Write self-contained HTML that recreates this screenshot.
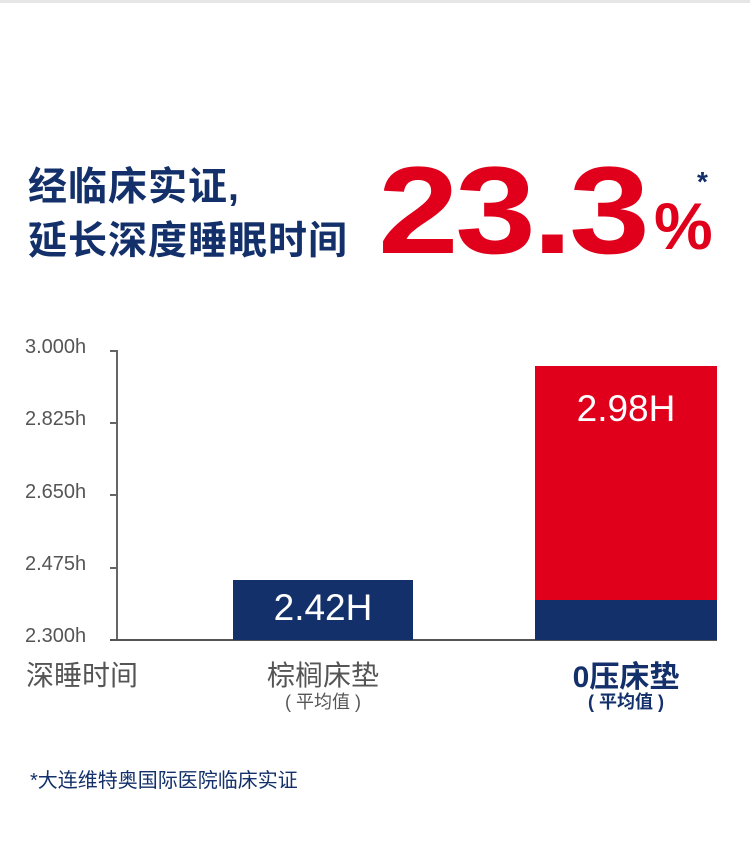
<!DOCTYPE html>
<html><head><meta charset="utf-8"><style>
body{margin:0;width:750px;height:858px;background:#fff;position:relative;overflow:hidden;font-family:"Liberation Sans","Noto Sans CJK SC",sans-serif}
.a{position:absolute;white-space:nowrap}
.t{color:#13306a;font-weight:bold;font-size:39px;left:28px;letter-spacing:1px;line-height:44px}
.y{color:#555;font-size:20px;left:25px}
</style></head><body>
<div class="a" style="left:0;top:0;width:750px;height:3px;background:#e6e6e6"></div>
<div class="a t" style="top:166px">经临床实证,</div>
<div class="a t" style="top:220px">延长深度睡眠时间</div>
<div class="a" style="left:378px;top:146px;color:#e0001b;font-weight:bold;font-size:124px;letter-spacing:-3px;line-height:130px;transform:scaleX(1.17);transform-origin:left top">23.3</div>
<div class="a" style="left:654px;top:186px;color:#e0001b;font-weight:bold;font-size:66px;line-height:80px">%</div>
<div class="a" style="left:697px;top:166px;color:#13306a;font-weight:bold;font-size:28px">*</div>

<div class="a y" style="top:336px">3.000h</div>
<div class="a y" style="top:408px">2.825h</div>
<div class="a y" style="top:481px">2.650h</div>
<div class="a y" style="top:553px">2.475h</div>
<div class="a y" style="top:625px">2.300h</div>
<div class="a" style="left:116px;top:350px;width:2px;height:291px;background:#666"></div>
<div class="a" style="left:110px;top:350px;width:7px;height:2px;background:#666"></div>
<div class="a" style="left:110px;top:422px;width:7px;height:2px;background:#666"></div>
<div class="a" style="left:110px;top:494px;width:7px;height:2px;background:#666"></div>
<div class="a" style="left:110px;top:567px;width:7px;height:2px;background:#666"></div>
<div class="a" style="left:110px;top:639px;width:607px;height:2px;background:#555"></div>

<div class="a" style="left:233px;top:580px;width:180px;height:60px;background:#13306a"></div>
<div class="a" style="left:233px;top:587px;width:180px;text-align:center;color:#fff;font-size:37px">2.42H</div>
<div class="a" style="left:535px;top:366px;width:182px;height:234px;background:#e0001b"></div>
<div class="a" style="left:535px;top:600px;width:182px;height:40px;background:#13306a"></div>
<div class="a" style="left:535px;top:388px;width:182px;text-align:center;color:#fff;font-size:37px">2.98H</div>

<div class="a" style="left:26px;top:654px;color:#555;font-size:28px">深睡时间</div>
<div class="a" style="left:233px;top:654px;width:180px;text-align:center;color:#555;font-size:28px">棕榈床垫</div>
<div class="a" style="left:233px;top:688px;width:180px;text-align:center;color:#555;font-size:18px">( 平均值 )</div>
<div class="a" style="left:535px;top:652px;width:182px;text-align:center;color:#13306a;font-weight:bold;font-size:30px">0压床垫</div>
<div class="a" style="left:535px;top:688px;width:182px;text-align:center;color:#13306a;font-weight:bold;font-size:18px">( 平均值 )</div>

<div class="a" style="left:30px;top:764px;color:#13306a;font-size:20px">*大连维特奥国际医院临床实证</div>
</body></html>
